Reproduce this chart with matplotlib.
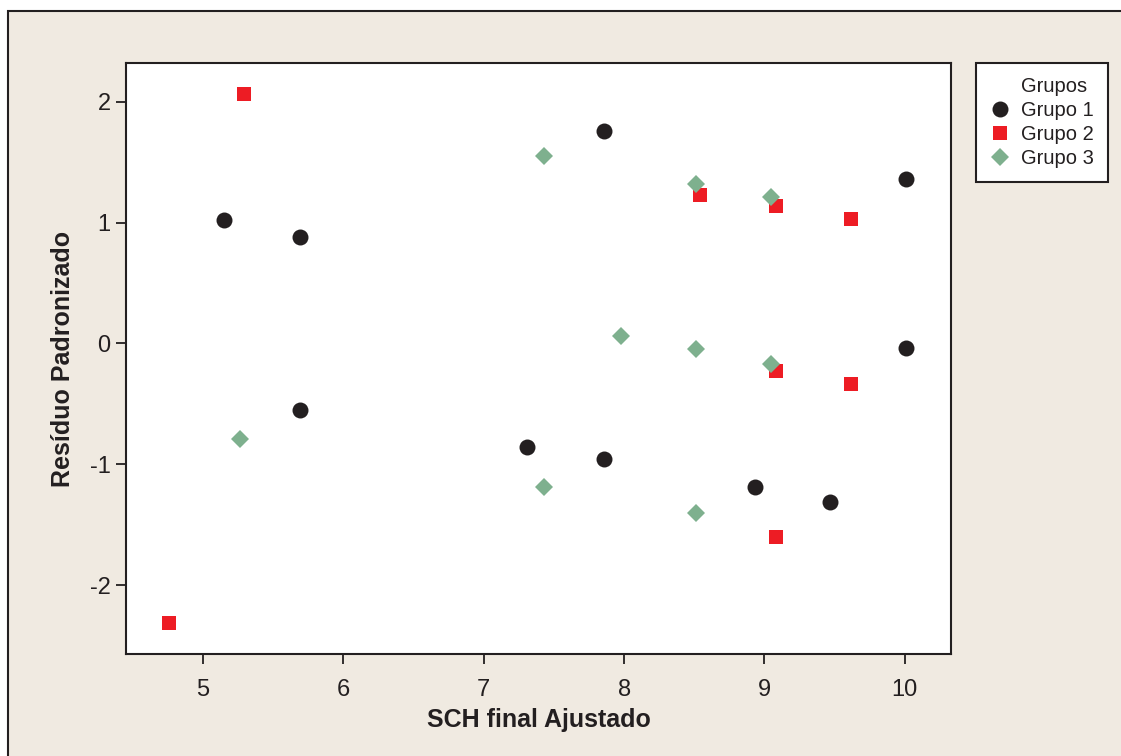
import matplotlib
matplotlib.use('Agg')
from matplotlib import pyplot as plt
from matplotlib.patches import Rectangle
from matplotlib.lines import Line2D

plt.rcParams['font.family'] = ['Liberation Sans', 'DejaVu Sans']
plt.rcParams['axes.unicode_minus'] = False

# fitted values (x) and standardized residuals (y) per group
g1_x = [5.15, 5.69, 5.69, 7.31, 7.86, 7.86, 8.93, 9.47, 10.01, 10.01]
g1_y = [1.02, 0.88, -0.55, -0.86, 1.76, -0.96, -1.19, -1.31, 1.36, -0.04]

g2_x = [5.29, 4.76, 8.54, 9.08, 9.08, 9.08, 9.62, 9.62]
g2_y = [2.06, -2.31, 1.23, 1.14, -0.23, -1.60, 1.03, -0.34]

g3_x = [5.26, 7.43, 7.43, 7.98, 8.51, 8.51, 8.51, 9.05, 9.05]
g3_y = [-0.79, 1.55, -1.19, 0.06, 1.32, -0.05, -1.40, 1.21, -0.17]

group_names = ['Grupo 1', 'Grupo 2', 'Grupo 3']
xticks = [5, 6, 7, 8, 9, 10]
yticks = [-2, -1, 0, 1, 2]

bg = '#f0eae1'
ink = '#231f20'
c_black = '#231f20'
c_red = '#ed1c24'
c_green = '#7eb08e'

W, H = 1121, 756
fig = plt.figure(figsize=(W/100, H/100), dpi=100, facecolor='white')

# beige panel with a border on its top and left edge
panel = Rectangle((8/W, -0.1), 1.2, 1 - 11/H + 0.1, transform=fig.transFigure,
                  facecolor=bg, edgecolor=ink, linewidth=1.5, clip_on=False, zorder=-10)
fig.patches.append(panel)

ax = fig.add_axes([126/W, (H-654)/H, 825/W, 591/H])
ax.set_zorder(1)
ax.set_facecolor('white')

ax.plot(g1_x, g1_y, 'o', color=c_black, markersize=11.5, markeredgewidth=0, zorder=3)
ax.plot(g2_x, g2_y, 's', color=c_red, markersize=9.5, markeredgewidth=0, zorder=3)
ax.plot(g3_x, g3_y, 'D', color=c_green, markersize=9, markeredgewidth=0, zorder=4)

ax.set_xlim(4.45, 10.33)
ax.set_ylim(-2.57, 2.32)
ax.set_xticks(xticks)
ax.set_yticks(yticks)
ax.tick_params(direction='out', length=7, width=1.3, color=ink, labelsize=17,
               labelcolor=ink)
ax.tick_params(axis='x', pad=11)
ax.tick_params(axis='y', pad=4)
for s in ax.spines.values():
    s.set_linewidth(1.5)
    s.set_color(ink)

ax.set_xlabel('SCH final Ajustado', fontsize=18, fontweight='bold', color=ink)
ax.set_ylabel('Resíduo Padronizado', fontsize=18, fontweight='bold', color=ink)
ax.xaxis.set_label_coords(0.5, -(720 - 654) / 591, transform=ax.transAxes)
ax.xaxis.label.set_verticalalignment('center')
ax.yaxis.set_label_coords(-(126 - 63) / 825, 0.5, transform=ax.transAxes)
ax.yaxis.label.set_verticalalignment('center')

handles = [Line2D([], [], linestyle='none', marker=None),
           Line2D([], [], linestyle='none', marker='o', color=c_black, markersize=11.5, markeredgewidth=0),
           Line2D([], [], linestyle='none', marker='s', color=c_red, markersize=9.5, markeredgewidth=0),
           Line2D([], [], linestyle='none', marker='D', color=c_green, markersize=9, markeredgewidth=0)]
labels = ['Grupos'] + group_names
leg = fig.legend(handles, labels, loc='upper left', bbox_to_anchor=(976/W, 1 - 63/H),
                 fontsize=14.5, frameon=True, fancybox=False, borderpad=0.7,
                 handlelength=1.0, handletextpad=0.55, labelspacing=0.25,
                 borderaxespad=0)
leg.set_zorder(2)
leg.get_frame().set_edgecolor(ink)
leg.get_frame().set_linewidth(1.5)
leg.get_frame().set_facecolor('white')
leg.get_frame().set_alpha(1)
for t in leg.get_texts():
    t.set_color(ink)

fig.savefig('out.png', dpi=100, facecolor=fig.get_facecolor())
